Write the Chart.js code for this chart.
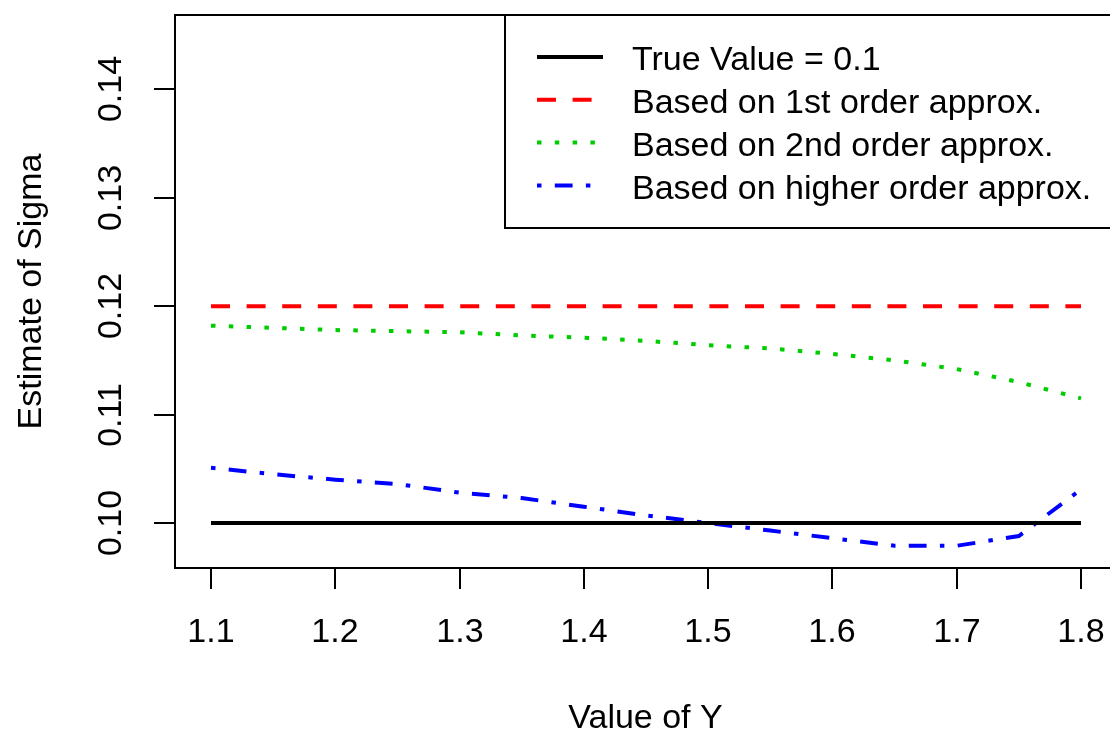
<!DOCTYPE html>
<html><head><meta charset="utf-8">
<script src="https://cdn.jsdelivr.net/npm/chart.js@4"></script>
<style>
html,body{margin:0;padding:0;overflow:hidden;background:#fff;width:1110px;height:738px}
#wrap{width:1120px;height:738px;position:relative}
</style>
</head><body><div id="wrap"><canvas id="c" width="1120" height="738"></canvas></div>
<script>
// ---- data ----
const xValues     = [1.10,1.15,1.20,1.25,1.30,1.35,1.40,1.45,1.50,1.55,1.60,1.65,1.70,1.75,1.80];
const trueValue   = [0.100,0.100,0.100,0.100,0.100,0.100,0.100,0.100,0.100,0.100,0.100,0.100,0.100,0.100,0.100];
const firstOrder  = [0.120,0.120,0.120,0.120,0.120,0.120,0.120,0.120,0.120,0.120,0.120,0.120,0.120,0.120,0.120];
const secondOrder = [0.1182,0.1180,0.1178,0.1177,0.1176,0.1173,0.1171,0.1168,0.1164,0.1161,0.1156,0.1150,0.1142,0.1130,0.1115];
const higherOrder = [0.1051,0.1045,0.1040,0.1036,0.1028,0.1023,0.1015,0.1007,0.1000,0.0993,0.0986,0.0979,0.0979,0.0988,0.1031];
const seriesLabels = ["True Value = 0.1","Based on 1st order approx.","Based on 2nd order approx.","Based on higher order approx."];
const xTicks = [1.1,1.2,1.3,1.4,1.5,1.6,1.7,1.8];
const yTicks = [0.10,0.11,0.12,0.13,0.14];
const xTitle = "Value of Y";
const yTitle = "Estimate of Sigma";

const FONT = "34px 'Liberation Sans', Arial, sans-serif";
const pts = arr => xValues.map((x,i)=>({x:x, y:arr[i]}));

const rBase = {
  id:'rbase',
  afterDraw(chart){
    const ctx = chart.ctx, a = chart.chartArea, xs = chart.scales.x, ys = chart.scales.y;
    ctx.save();
    ctx.setLineDash([]);
    ctx.strokeStyle = '#000';
    ctx.lineWidth = 2;
    ctx.lineCap = 'butt';
    ctx.strokeRect(a.left, a.top, a.right - a.left, a.bottom - a.top);
    ctx.fillStyle = '#000';
    ctx.font = FONT;
    ctx.textAlign = 'center';
    ctx.textBaseline = 'middle';
    // x axis
    xTicks.forEach(v => {
      const px = Math.round(xs.getPixelForValue(v));
      ctx.beginPath(); ctx.moveTo(px, a.bottom); ctx.lineTo(px, a.bottom + 21); ctx.stroke();
      ctx.fillText(v.toFixed(1), px, 633);
    });
    // y axis
    yTicks.forEach(v => {
      const py = Math.round(ys.getPixelForValue(v));
      ctx.beginPath(); ctx.moveTo(a.left - 21, py); ctx.lineTo(a.left, py); ctx.stroke();
      ctx.save(); ctx.translate(112, py); ctx.rotate(-Math.PI/2);
      ctx.fillText(v.toFixed(2), 0, 0); ctx.restore();
    });
    // titles
    ctx.fillText(xTitle, (a.left + a.right)/2, 719);
    ctx.save(); ctx.translate(32, (a.top + a.bottom)/2); ctx.rotate(-Math.PI/2);
    ctx.fillText(yTitle, 0, 0); ctx.restore();
    // legend
    const lx = 505, ly = a.top, lh = 228 - a.top;
    ctx.fillStyle = '#fff';
    ctx.fillRect(lx, ly, a.right - lx, lh);
    ctx.strokeRect(lx, ly, a.right - lx, lh);
    ctx.fillStyle = '#000';
    ctx.textAlign = 'left';
    chart.data.datasets.forEach((ds, i) => {
      const y = 57 + i * 42.8;
      ctx.save();
      ctx.strokeStyle = ds.borderColor;
      ctx.lineWidth = ds.borderWidth;
      ctx.setLineDash(ds.borderDash || []);
      ctx.beginPath(); ctx.moveTo(537, y); ctx.lineTo(603, y); ctx.stroke();
      ctx.restore();
      ctx.fillText(ds.label, 632, y + 4);
    });
    ctx.restore();
  }
};

new Chart(document.getElementById('c'), {
  type: 'line',
  data: {
    datasets: [
      {label: seriesLabels[0], data: pts(trueValue),   borderColor:'#000000', borderWidth:4, borderDash:[]},
      {label: seriesLabels[1], data: pts(firstOrder),  borderColor:'#FF0000', borderWidth:4, borderDash:[19,16.6]},
      {label: seriesLabels[2], data: pts(secondOrder), borderColor:'#00CD00', borderWidth:4, borderDash:[4.5,13.3]},
      {label: seriesLabels[3], data: pts(higherOrder), borderColor:'#0000FF', borderWidth:4, borderDash:[4.5,13.3,17.8,13.3]}
    ]
  },
  options: {
    responsive:false, animation:false, devicePixelRatio:1,
    layout:{padding:{left:0,right:4,top:15,bottom:0}},
    elements:{point:{radius:0}, line:{tension:0, borderCapStyle:'butt', fill:false}},
    plugins:{legend:{display:false}, tooltip:{enabled:false}},
    scales:{
      x:{type:'linear', min:1.07103, max:1.82816, grid:{display:false}, border:{display:false}, ticks:{display:false},
         afterFit(s){ s.height = 170; }},
      y:{type:'linear', min:0.095849, max:0.146864, grid:{display:false}, border:{display:false}, ticks:{display:false},
         afterFit(s){ s.width = 175; }}
    }
  },
  plugins:[rBase]
});
</script>
</body></html>
